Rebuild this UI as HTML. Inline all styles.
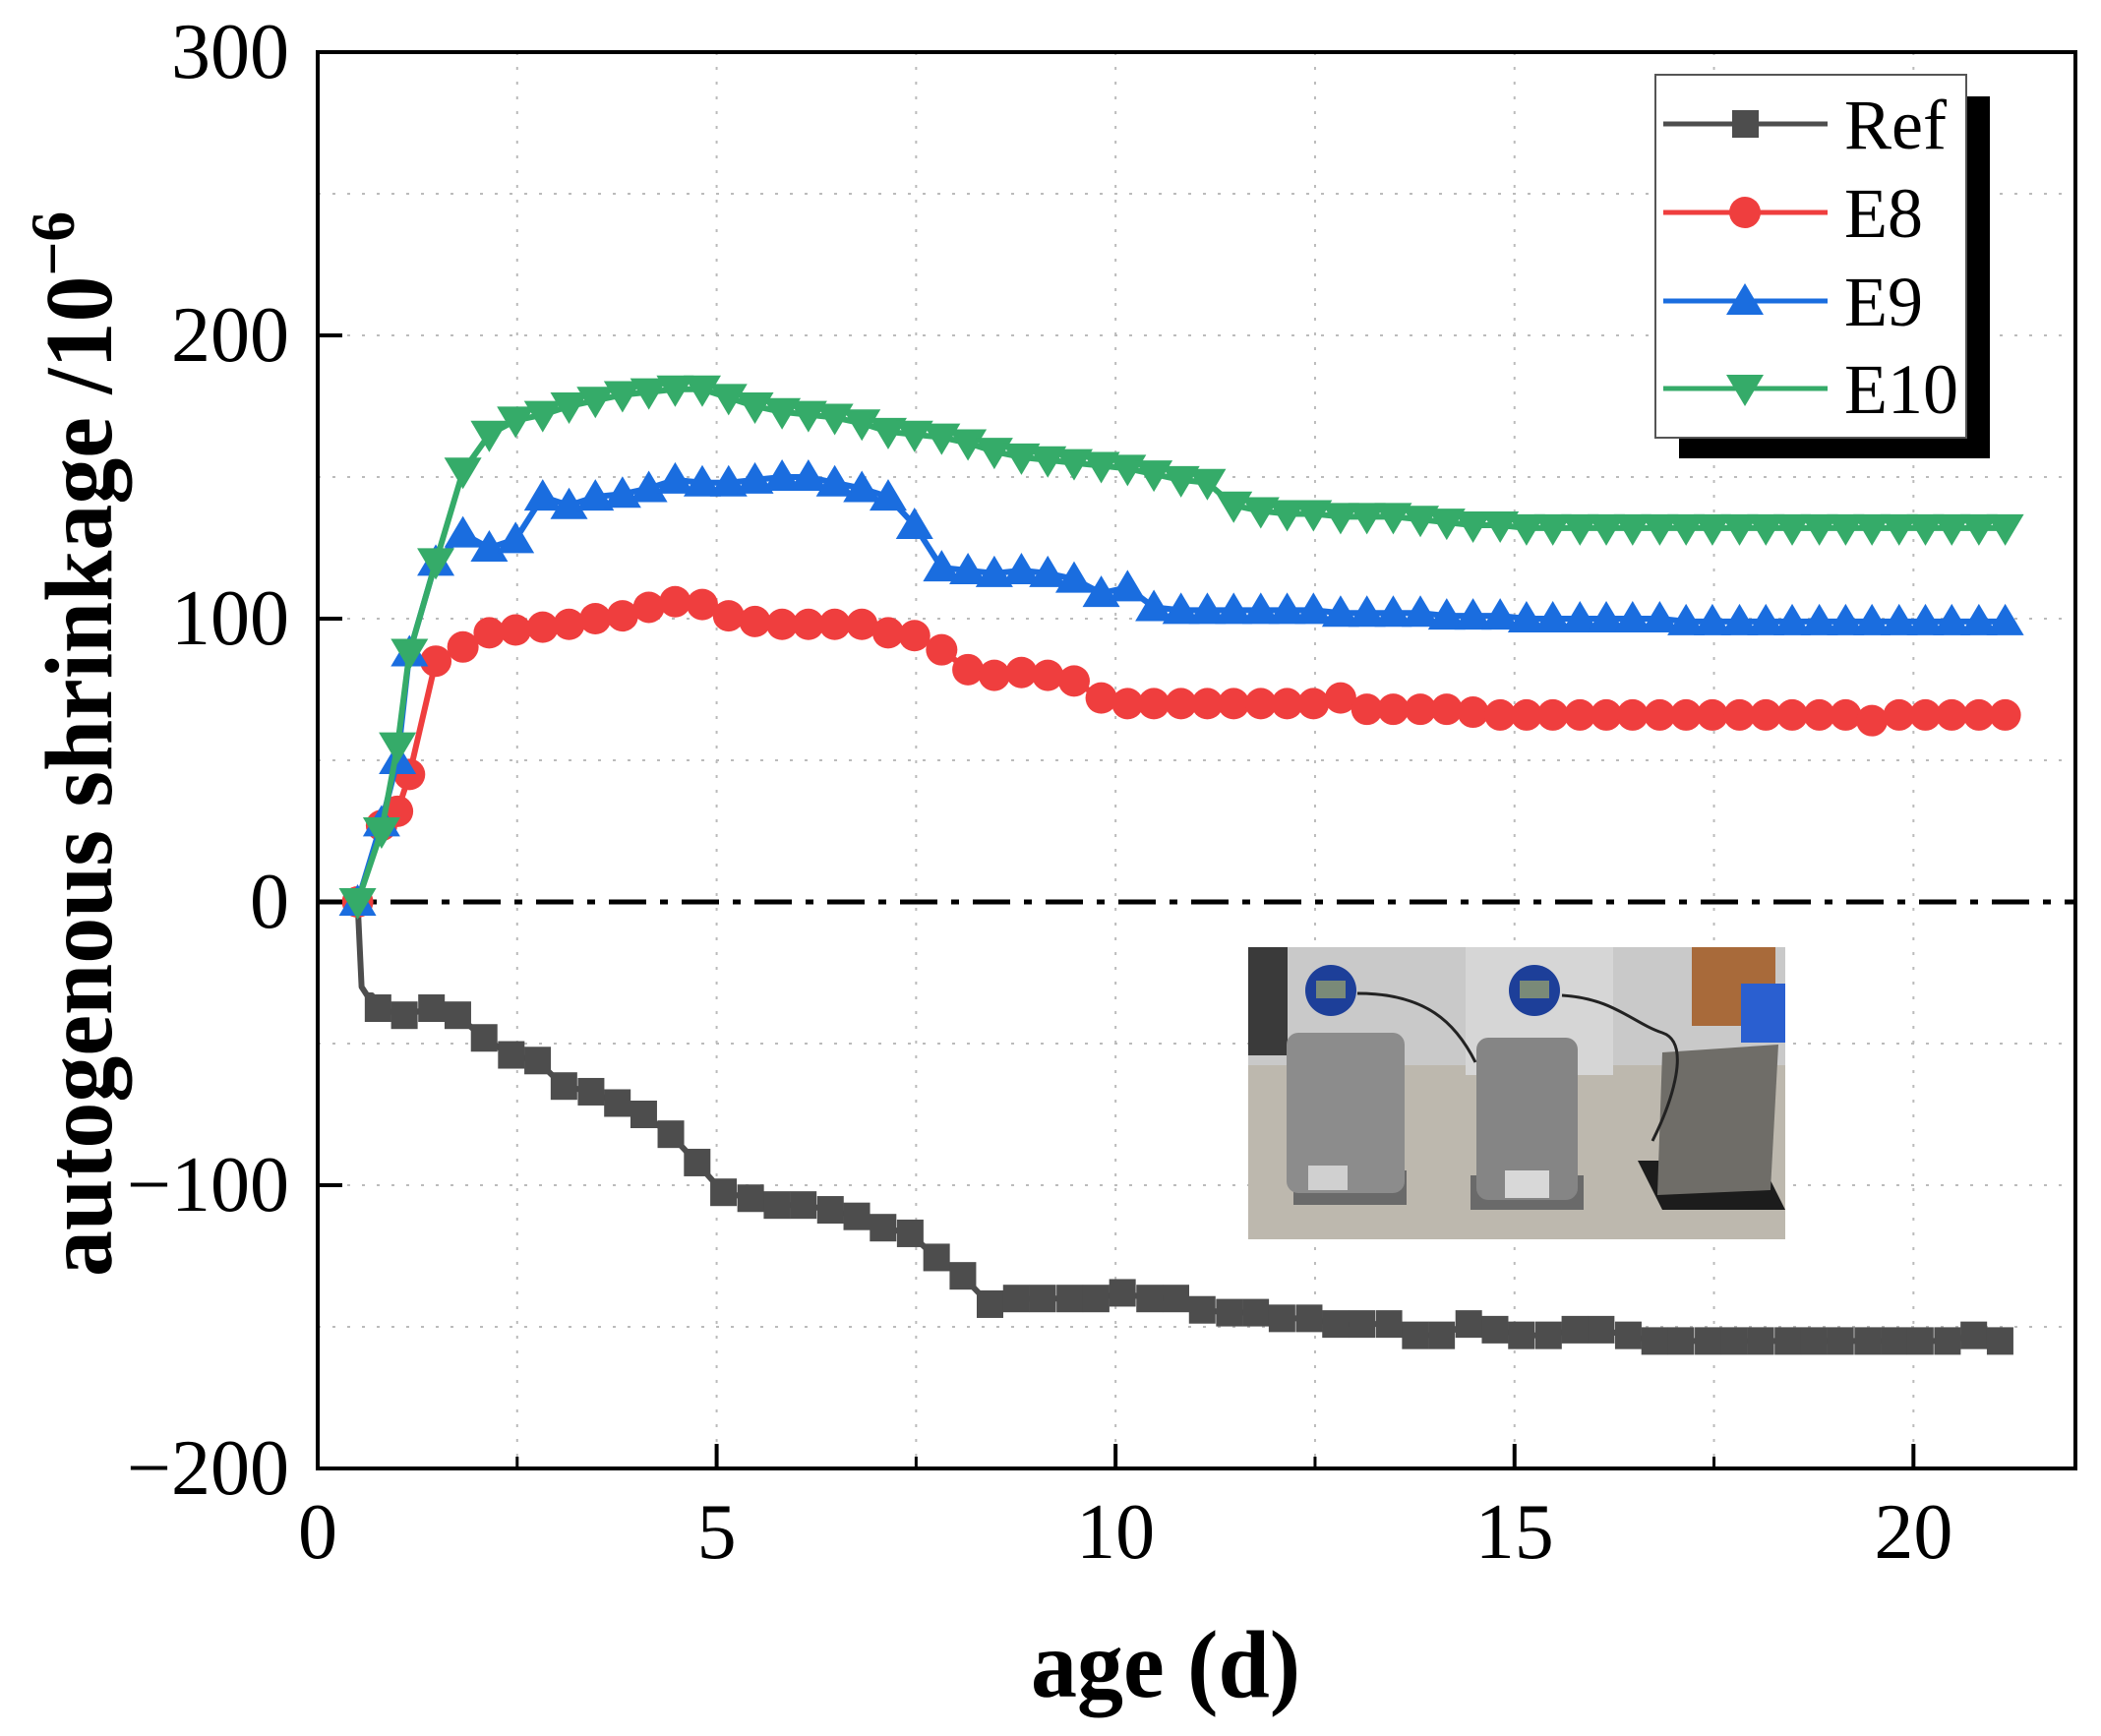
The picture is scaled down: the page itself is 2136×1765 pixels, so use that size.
<!DOCTYPE html>
<html><head><meta charset="utf-8"><style>
html,body{margin:0;padding:0;background:#fff;}
svg{display:block;}
text{font-family:"Liberation Serif",serif;}
</style></head><body>
<svg id="chart" width="2136" height="1765" viewBox="0 0 2136 1765" xmlns="http://www.w3.org/2000/svg">
<rect width="2136" height="1765" fill="#fff"/>
<g id="grid"></g>
<line x1="323" y1="917" x2="2110" y2="917" stroke="#000" stroke-width="5" stroke-dasharray="38,14,8,14"/>
<g id="inset">
  <rect x="1269" y="963" width="546" height="297" fill="#bdb8ae"/>
  <rect x="1269" y="963" width="546" height="120" fill="#c9c9c9"/>
  <rect x="1269" y="963" width="40" height="110" fill="#3a3a3a"/>
  <rect x="1490" y="963" width="150" height="130" fill="#d6d6d6"/>
  <rect x="1720" y="963" width="85" height="80" fill="#a86a3a"/>
  <rect x="1770" y="1000" width="45" height="60" fill="#2a5fd0"/>
  <rect x="1315" y="1190" width="115" height="35" fill="#6a6a6a"/>
  <rect x="1495" y="1195" width="115" height="35" fill="#6a6a6a"/>
  <polygon points="1665,1180 1790,1180 1815,1230 1690,1230" fill="#1c1c1c"/>
  <rect x="1308" y="1050" width="120" height="163" rx="12" fill="#8c8c8c"/>
  <rect x="1501" y="1055" width="103" height="165" rx="12" fill="#858585"/>
  <polygon points="1690,1070 1808,1062 1800,1210 1685,1215" fill="#6f6d68"/>
  <rect x="1330" y="1185" width="40" height="25" fill="#d0d0d0"/>
  <rect x="1530" y="1190" width="45" height="28" fill="#d8d8d8"/>
  <circle cx="1353" cy="1007" r="26" fill="#1d3f99"/>
  <rect x="1338" y="997" width="30" height="18" fill="#7a8a78"/>
  <circle cx="1560" cy="1007" r="26" fill="#1d3f99"/>
  <rect x="1545" y="997" width="30" height="18" fill="#7a8a78"/>
  <path d="M1380,1010 C1450,1010 1480,1040 1500,1080" stroke="#222" stroke-width="3" fill="none"/>
  <path d="M1588,1012 C1640,1015 1660,1040 1690,1050 C1720,1060 1700,1120 1680,1160" stroke="#222" stroke-width="3" fill="none"/>
</g>
<g id="series"></g>
<rect x="323" y="53" width="1787" height="1440" fill="none" stroke="#000" stroke-width="4"/>
<g id="axes"></g>
<text x="1048" y="1725" font-size="98" font-weight="bold" textLength="274" lengthAdjust="spacingAndGlyphs">age (d)</text>
<text transform="translate(113,1298) rotate(-90)" x="0" y="0" font-size="98" font-weight="bold" textLength="1083" lengthAdjust="spacingAndGlyphs">autogenous shrinkage /10<tspan dy="-38" font-size="64">−6</tspan></text>
<g id="legend">
  <rect x="1707" y="98" width="316" height="368" fill="#000"/>
  <rect x="1683" y="76" width="316" height="369" fill="#fff" stroke="#555" stroke-width="2"/>
</g>
</svg>
<script>
const refDays=[0.75,1.08,1.42,1.75,2.08,2.42,2.75,3.08,3.42,3.75,4.08,4.42,4.75,5.08,5.42,5.75,6.08,6.42,6.75,7.08,7.42,7.75,8.08,8.42,8.75,9.08,9.42,9.75,10.08,10.42,10.75,11.08,11.42,11.75,12.08,12.42,12.75,13.08,13.42,13.75,14.08,14.42,14.75,15.08,15.42,15.75,16.08,16.42,16.75,17.08,17.42,17.75,18.08,18.42,18.75,19.08,19.42,19.75,20.08,20.42,20.75,21.08];
const refValues=[-37.5,-40,-37.5,-40,-48,-54,-56,-65,-67,-71,-75,-82,-92,-102.5,-104.6,-107,-107,-108.7,-111,-115,-117,-125.5,-132,-142,-140,-140,-140,-140,-138,-140,-140,-144,-145,-145,-147,-147,-149,-149,-149,-153,-153,-149,-151,-153,-153,-151,-151,-153,-155,-155,-155,-155,-155,-155,-155,-155,-155,-155,-155,-155,-153,-155];
const refEarlyDays=[0.5,0.55,0.62,0.68];
const refEarlyValues=[0,-30,-33,-33];
const eDays=[0.5,0.8,1.0,1.15,1.48,1.82,2.15,2.48,2.82,3.15,3.48,3.82,4.15,4.48,4.82,5.15,5.48,5.82,6.15,6.48,6.82,7.15,7.48,7.82,8.15,8.48,8.82,9.15,9.48,9.82,10.15,10.48,10.82,11.15,11.48,11.82,12.15,12.48,12.82,13.15,13.48,13.82,14.15,14.48,14.82,15.15,15.48,15.82,16.15,16.48,16.82,17.15,17.48,17.82,18.15,18.48,18.82,19.15,19.48,19.82,20.15,20.48,20.82,21.15];
const e8Values=[0,27,32,45,85,90,95,96,97,98,100,101,104,106,105,101,99,98,98,98,98,95,94,89,82,80,81,80,78,72,70,70,70,70,70,70,70,70,72,68,68,68,68,67,66,66,66,66,66,66,66,66,66,66,66,66,66,66,64,66,66,66,66,66];
const e9Values=[0,28,50,88,120,130,125,128,143,140,143,144,146,149,148,148,149,150,150,148,146,143,133,118,117,116,117,116,114,109,111,104,103,103,103,103,103,103,102,102,102,102,101,101,101,100,100,100,100,100,100,99,99,99,99,99,99,99,99,99,99,99,99,99];
const e10Values=[0,25,55,88,120,152,165,170,172,175,177,179,180,181,181,178,175,173,172,171,169,166,165,164,162,159,157,156,155,154,153,151,149,148,140,138,137,137,136,136,136,135,134,133,133,132,132,132,132,132,132,132,132,132,132,132,132,132,132,132,132,132,132,132];
const xTicks=[0,5,10,15,20];
const xMinor=[2.5,7.5,12.5,17.5];
const yTicks=[-200,-100,0,100,200,300];
const yMinor=[-150,-50,50,150,250];
const legendLabels=["Ref","E8","E9","E10"];

const NS="http://www.w3.org/2000/svg";
const X0=323,X1=2110,Y0=1493,Y1=53,XMAX=22.03,YMIN=-200,YMAX=300;
function sx(d){return X0+(d/XMAX)*(X1-X0);}
function sy(v){return Y0-(v-YMIN)/(YMAX-YMIN)*(Y0-Y1);}
function mk(tag,attrs,parent){const e=document.createElementNS(NS,tag);for(const k in attrs)e.setAttribute(k,attrs[k]);parent.appendChild(e);return e;}

const grid=document.getElementById('grid');
xTicks.concat(xMinor).forEach(t=>{if(t<=0)return;
  const l=mk('line',{x1:sx(t),x2:sx(t),y1:Y1,y2:Y0,stroke:'#bbb','stroke-width':2,'stroke-dasharray':'3,12'},grid);
  
  });
yTicks.concat(yMinor).forEach(t=>{if(t===0||t===YMIN||t===YMAX)return;
  const l=mk('line',{x1:X0,x2:X1,y1:sy(t),y2:sy(t),stroke:'#bbb','stroke-width':2,'stroke-dasharray':'3,12'},grid);
  
  });

const axes=document.getElementById('axes');
xTicks.forEach(t=>{
  const l=mk('line',{x1:sx(t),x2:sx(t),y1:Y0,y2:Y0-25,stroke:'#000','stroke-width':4},axes);
  
  
  const tx=mk('text',{x:sx(t),y:1584,'font-size':80,'text-anchor':'middle'},axes);
  tx.textContent=t;
  
  });
xMinor.forEach(t=>{
  const l=mk('line',{x1:sx(t),x2:sx(t),y1:Y0,y2:Y0-12,stroke:'#000','stroke-width':3},axes);
  
  });
yTicks.forEach(t=>{
  const l=mk('line',{x1:X0,x2:X0+25,y1:sy(t),y2:sy(t),stroke:'#000','stroke-width':4},axes);
  
  
  const tx=mk('text',{x:294,y:sy(t)+26,'font-size':80,'text-anchor':'end'},axes);
  tx.textContent=(t<0?'\u2212':'')+Math.abs(t);
  
  });

function marker(kind,x,y,color,parent){
  let e;
  if(kind==='square'){e=mk('rect',{x:x-13,y:y-14,width:27,height:28,fill:color},parent);}
  else if(kind==='circle'){e=mk('circle',{cx:x,cy:y,r:16,fill:color},parent);}
  else if(kind==='up'){e=mk('polygon',{points:`${x-19},${y+14} ${x+19},${y+14} ${x},${y-18}`,fill:color},parent);}
  else {e=mk('polygon',{points:`${x-19},${y-14} ${x+19},${y-14} ${x},${y+18}`,fill:color},parent);}
  return e;
}
const layer=document.getElementById('series');
function drawSeries(name,days,vals,color,kind,early,earlyVals){
  const g=mk('g',{},layer);
  
  
  let pts=[];
  if(early){early.forEach((d,i)=>pts.push(sx(d)+','+sy(earlyVals[i])));}
  days.forEach((d,i)=>pts.push(sx(d)+','+sy(vals[i])));
  const pl=mk('polyline',{points:pts.join(' '),fill:'none',stroke:color,'stroke-width':6,'stroke-linejoin':'round'},g);
  
  
  days.forEach((d,i)=>{
    const m=marker(kind,sx(d),sy(vals[i]),color,g);
    
    });
}
drawSeries('ref',refDays,refValues,'#4d4d4d','square',refEarlyDays,refEarlyValues);
drawSeries('e8',eDays,e8Values,'#ef3e3e','circle');
drawSeries('e9',eDays,e9Values,'#1a6ddf','up');
drawSeries('e10',eDays,e10Values,'#35ab69','down');

const legend=document.getElementById('legend');
const legColors=['#4d4d4d','#ef3e3e','#1a6ddf','#35ab69'];
const legKinds=['square','circle','up','down'];
const legY=[126,216,306,395];
legendLabels.forEach((lab,i)=>{
  const g=mk('g',{},legend);
  
  
  mk('line',{x1:1691,x2:1858,y1:legY[i],y2:legY[i],stroke:legColors[i],'stroke-width':5},g);
  marker(legKinds[i],1774,legY[i],legColors[i],g);
  const t=mk('text',{x:1875,y:legY[i]+25,'font-size':72},g);
  t.textContent=lab;});
</script>
</body></html>
